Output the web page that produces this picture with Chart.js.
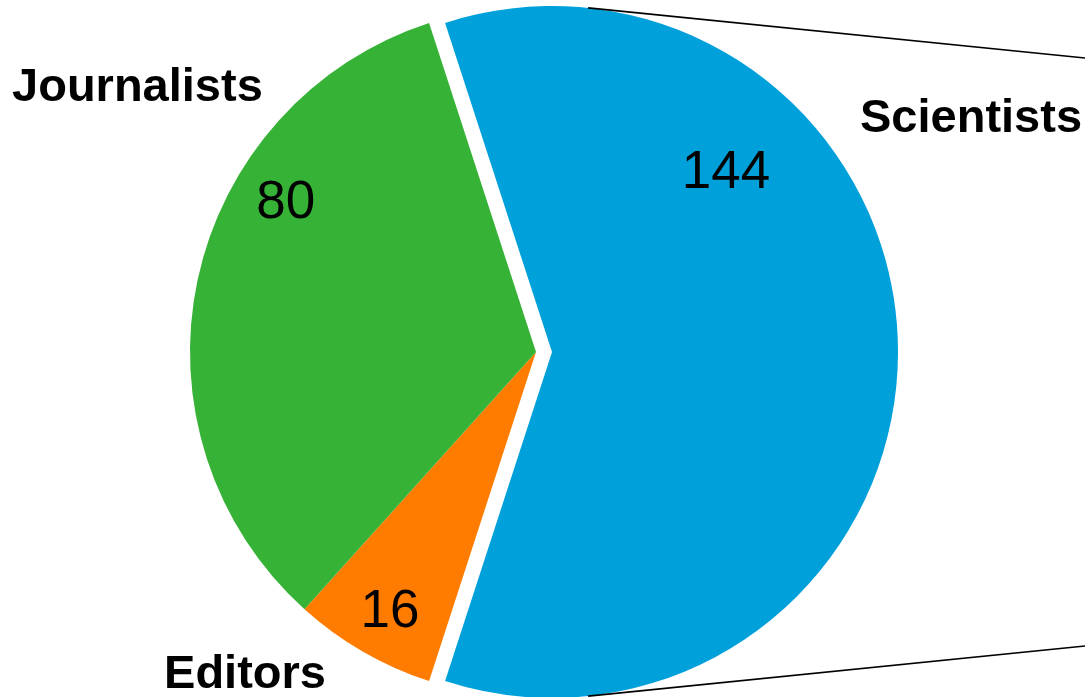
<!DOCTYPE html>
<html>
<head>
<meta charset="utf-8">
<script src="https://cdn.jsdelivr.net/npm/chart.js@4"></script>
<style>
  html, body { margin: 0; padding: 0; background: #fff; }
  canvas { display: block; }
</style>
</head>
<body>
<canvas id="pieChart" width="1085" height="697"></canvas>
<script>
// data
const categories = ['Scientists', 'Editors', 'Journalists'];
const counts = [144, 16, 80];
const sliceColors = ['#00A0DA', '#FF7C00', '#36B236'];

// where each label sits (baseline), as fractions of the radius from the slice centre
const valuePos = [[0.503, -0.474], [-0.422, 0.795], [-0.723, -0.387]];
const namePos = [[1.211, -0.636], [-0.841, 0.971], [-1.152, -0.725]];

// how far (px) each slice is pulled out of the pie
const explode = [16, 0, 0];

function sliceCentre(arc, i) {
    const mid = (arc.startAngle + arc.endAngle) / 2;
    return [arc.x + Math.cos(mid) * explode[i], arc.y + Math.sin(mid) * explode[i]];
}

// draw the arcs ourselves so the exploded slice keeps its radius
const explodePlugin = {
    id: 'explodeSlices',
    beforeDatasetsDraw(chart) {
        const ctx = chart.ctx;
        const meta = chart.getDatasetMeta(0);
        meta.data.forEach((arc, i) => {
            const [cx, cy] = sliceCentre(arc, i);
            ctx.save();
            ctx.translate(cx - arc.x, cy - arc.y);
            arc.draw(ctx, chart.chartArea);
            ctx.restore();
        });
        return false;
    }
};

const labelPlugin = {
    id: 'sliceLabels',
    afterDraw(chart) {
        const ctx = chart.ctx;
        const meta = chart.getDatasetMeta(0);

        ctx.save();
        ctx.fillStyle = '#000';
        ctx.textAlign = 'center';
        ctx.textBaseline = 'alphabetic';

        meta.data.forEach((arc, i) => {
            const [cx, cy] = sliceCentre(arc, i);
            const r = arc.outerRadius;

            ctx.font = '53px "Liberation Sans", Arial, sans-serif';
            ctx.fillText(String(counts[i]), cx + valuePos[i][0] * r, cy + valuePos[i][1] * r);

            ctx.font = 'bold 47px "Liberation Sans", Arial, sans-serif';
            ctx.fillText(categories[i], cx + namePos[i][0] * r, cy + namePos[i][1] * r);
        });

        // connector lines running off to the right (to the secondary plot)
        const sci = meta.data[0];
        const [cx, cy] = sliceCentre(sci, 0);
        const r = sci.outerRadius;
        const a = 84 * Math.PI / 180;
        const slope = 0.101;
        ctx.strokeStyle = '#000';
        ctx.lineWidth = 1.6;
        [-1, 1].forEach(s => {
            const x0 = cx + r * Math.cos(a);
            const y0 = cy + s * r * Math.sin(a);
            const x1 = chart.width;
            const y1 = y0 - s * (x1 - x0) * slope;
            ctx.beginPath();
            ctx.moveTo(x0, y0);
            ctx.lineTo(x1, y1);
            ctx.stroke();
        });
        ctx.restore();
    }
};

const ctxPie = document.getElementById('pieChart').getContext('2d');
const pieChart = new Chart(ctxPie, {
    type: 'pie',
    data: {
        labels: categories,
        datasets: [{
            data: counts,
            backgroundColor: sliceColors,
            borderWidth: 0,
            hoverOffset: 0,
            radius: 346
        }]
    },
    options: {
        responsive: false,
        animation: false,
        events: [],
        rotation: -18,
        layout: {
            padding: { top: 7, right: 13, bottom: 0, left: 0 }
        },
        plugins: {
            legend: { display: false },
            tooltip: { enabled: false }
        }
    },
    plugins: [explodePlugin, labelPlugin]
});
</script>
</body>
</html>
